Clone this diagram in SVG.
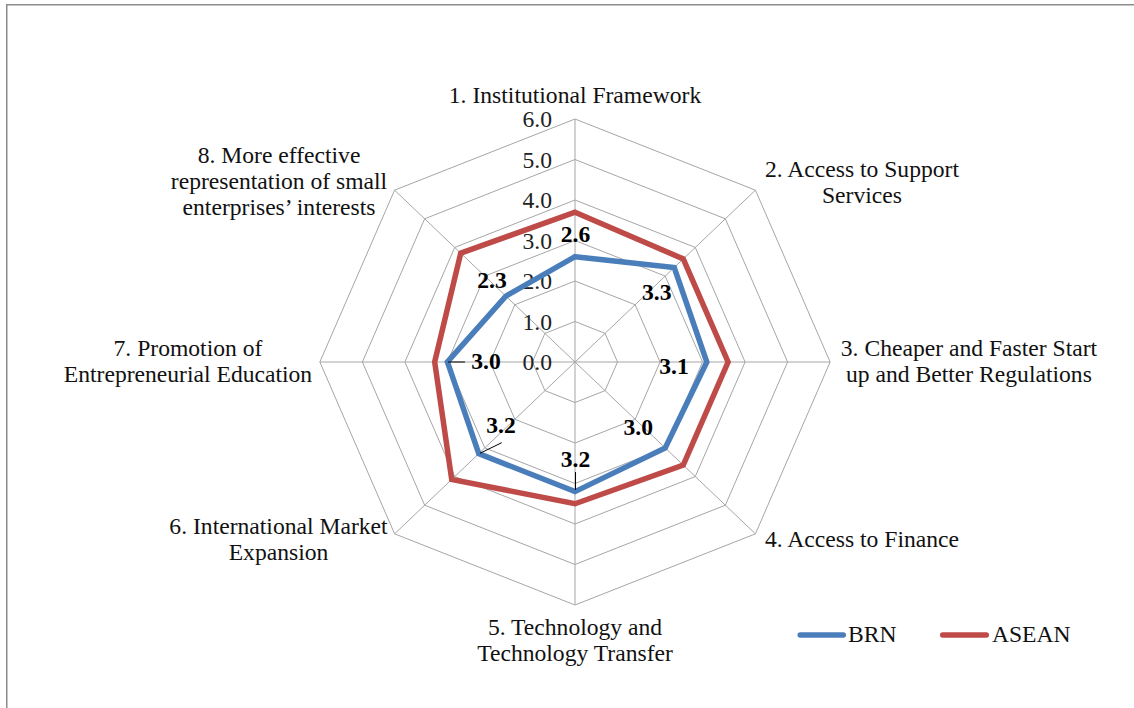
<svg xmlns="http://www.w3.org/2000/svg" width="1134" height="708" viewBox="0 0 1134 708">
  <style>
    .grid { fill: none; stroke: #a6a6a6; stroke-width: 1; vector-effect: non-scaling-stroke; }
    .series { fill: none; stroke-width: 5.5; stroke-linejoin: miter; vector-effect: non-scaling-stroke; }
    .brn { stroke: #4a7ebb; }
    .asean { stroke: #be4b48; }
    .leader { stroke: #000; stroke-width: 1; vector-effect: non-scaling-stroke; }
    text { font-family: "Liberation Serif", "Times New Roman", serif; font-size: 22.5px; fill: #111; }
    .tick { text-anchor: end; fill: #222; }
    .val { font-weight: bold; text-anchor: middle; fill: #000; }
    .cat { text-anchor: middle; }
  </style>
  <rect x="0" y="0" width="1134" height="708" fill="#fff"/>
  <rect x="6.75" y="4.75" width="1140" height="720" fill="none" stroke="#8c8c8c" stroke-width="1.5"/>
  <g transform="translate(575,362) scale(1.05,1)">
    <g id="grid">
      <polygon class="grid" points="0,-40.5 28.64,-28.64 40.5,0 28.64,28.64 0,40.5 -28.64,28.64 -40.5,0 -28.64,-28.64"/>
      <polygon class="grid" points="0,-81 57.28,-57.28 81,0 57.28,57.28 0,81 -57.28,57.28 -81,0 -57.28,-57.28"/>
      <polygon class="grid" points="0,-121.5 85.91,-85.91 121.5,0 85.91,85.91 0,121.5 -85.91,85.91 -121.5,0 -85.91,-85.91"/>
      <polygon class="grid" points="0,-162 114.55,-114.55 162,0 114.55,114.55 0,162 -114.55,114.55 -162,0 -114.55,-114.55"/>
      <polygon class="grid" points="0,-202.5 143.19,-143.19 202.5,0 143.19,143.19 0,202.5 -143.19,143.19 -202.5,0 -143.19,-143.19"/>
      <polygon class="grid" points="0,-243 171.83,-171.83 243,0 171.83,171.83 0,243 -171.83,171.83 -243,0 -171.83,-171.83"/>
      <line class="grid" x1="0" y1="0" x2="0" y2="-243"/>
      <line class="grid" x1="0" y1="0" x2="171.83" y2="-171.83"/>
      <line class="grid" x1="0" y1="0" x2="243" y2="0"/>
      <line class="grid" x1="0" y1="0" x2="171.83" y2="171.83"/>
      <line class="grid" x1="0" y1="0" x2="0" y2="243"/>
      <line class="grid" x1="0" y1="0" x2="-171.83" y2="171.83"/>
      <line class="grid" x1="0" y1="0" x2="-243" y2="0"/>
      <line class="grid" x1="0" y1="0" x2="-171.83" y2="-171.83"/>
    </g>
    <g id="axis-ticks">
      <text class="tick" x="-21.9" y="-235">6.0</text>
      <text class="tick" x="-21.9" y="-194.5">5.0</text>
      <text class="tick" x="-21.9" y="-154">4.0</text>
      <text class="tick" x="-21.9" y="-113.5">3.0</text>
      <text class="tick" x="-21.9" y="-73">2.0</text>
      <text class="tick" x="-21.9" y="-32.5">1.0</text>
      <text class="tick" x="-21.9" y="8">0.0</text>
    </g>
    <g id="connectors">
      <polygon id="series-asean" class="series asean" points="0,-149.85 103.1,-103.1 145.8,0 103.1,103.1 0,141.75 -117.42,117.42 -133.65,0 -108.82,-108.82"/>
      <polygon id="series-brn" class="series brn" points="0,-105.3 94.51,-94.51 125.55,0 85.91,85.91 0,129.6 -91.64,91.64 -121.5,0 -65.87,-65.87"/>
      <line class="leader" x1="-121" y1="0" x2="-104.8" y2="0"/>
      <line class="leader" x1="-90.5" y1="91.3" x2="-69.8" y2="80.7"/>
      <line class="leader" x1="0.5" y1="110" x2="0.5" y2="128"/>
    </g>
    <g id="data-labels">
      <text class="val" x="0.5" y="-120">2.6</text>
      <text class="val" x="77.8" y="-62">3.3</text>
      <text class="val" x="94.3" y="11.5">3.1</text>
      <text class="val" x="60.3" y="73.5">3.0</text>
      <text class="val" x="0.5" y="105">3.2</text>
      <text class="val" x="-70.5" y="71.5">3.2</text>
      <text class="val" x="-84.8" y="7">3.0</text>
      <text class="val" x="-79" y="-74">2.3</text>
    </g>
    <g id="node-1"><text class="cat" x="0" y="-259">1. Institutional Framework</text></g>
    <g id="node-2"><text class="cat" x="273.3" y="-185">2. Access to Support</text><text class="cat" x="273.3" y="-159">Services</text></g>
    <g id="node-3"><text class="cat" x="375.2" y="-6">3. Cheaper and Faster Start</text><text class="cat" x="375.2" y="20">up and Better Regulations</text></g>
    <g id="node-4"><text class="cat" x="273.3" y="185">4. Access to Finance</text></g>
    <g id="node-5"><text class="cat" x="0" y="273">5. Technology and</text><text class="cat" x="0" y="299">Technology Transfer</text></g>
    <g id="node-6"><text class="cat" x="-282.4" y="172">6. International Market</text><text class="cat" x="-282.4" y="198">Expansion</text></g>
    <g id="node-7"><text class="cat" x="-368.6" y="-6">7. Promotion of</text><text class="cat" x="-368.6" y="20">Entrepreneurial Education</text></g>
    <g id="node-8"><text class="cat" x="-281.9" y="-199">8. More effective</text><text class="cat" x="-281.9" y="-173">representation of small</text><text class="cat" x="-281.9" y="-147">enterprises’ interests</text></g>
    <g id="legend">
      <line class="series brn" x1="214.5" y1="273" x2="255.5" y2="273" stroke-linecap="round"/>
      <text x="260" y="280">BRN</text>
      <line class="series asean" x1="350.2" y1="273" x2="391.7" y2="273" stroke-linecap="round"/>
      <text x="397.1" y="280">ASEAN</text>
    </g>
  </g>
</svg>
